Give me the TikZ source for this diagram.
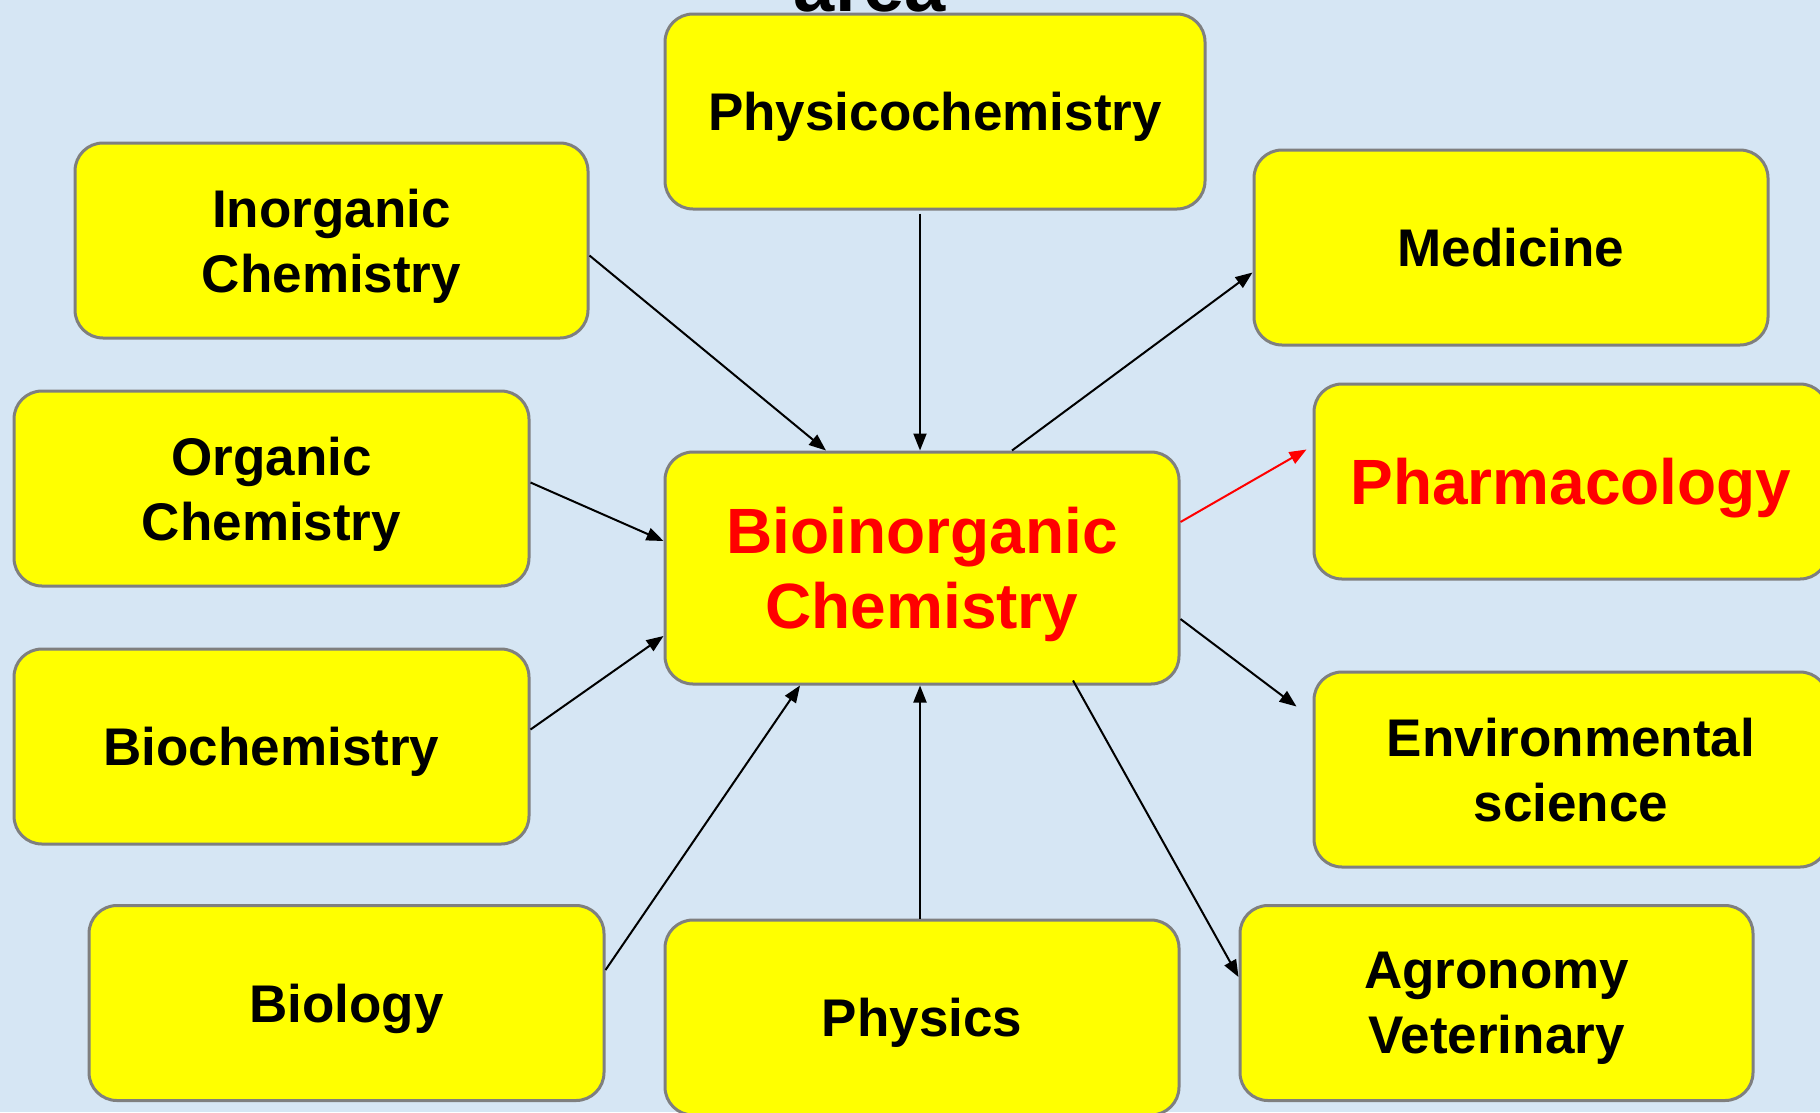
\documentclass[tikz,border=0pt]{standalone}
\usepackage{fontspec}
\setmainfont{Liberation Sans}
\usetikzlibrary{arrows.meta}
\definecolor{bgblue}{HTML}{D6E6F4}
\definecolor{boxyellow}{HTML}{FFFF00}
\definecolor{boxgray}{HTML}{7F7F7F}
\definecolor{hired}{HTML}{FF0000}
\begin{document}
\begin{tikzpicture}[x=1pt,y=-1pt,
  box/.style={draw=boxgray, line width=3pt, fill=boxyellow, rounded corners=28pt,
    align=center, inner sep=0pt, minimum width=514pt, minimum height=195pt, text depth=0pt,
    font=\fontsize{53}{65}\selectfont\bfseries},
  bigbox/.style={box, text=hired, font=\fontsize{64}{75}\selectfont\bfseries},
  conn/.style={line width=2pt, -{Triangle[length=17pt,width=13pt]}},
  redconn/.style={conn, draw=hired}]
\path[use as bounding box] (0,0) rectangle (1820,1112);
\clip (0,0) rectangle (1820,1112);
\fill[bgblue] (0,0) rectangle (1820,1112);
\node[anchor=base, font=\fontsize{74}{80}\selectfont\bfseries] (title) at (870,11) {area};

\node[box, minimum width=540pt] (phys) at (935,111.5) {Physicochemistry};
\node[box, minimum width=513pt] (inorg) at (331.5,240.5) {Inorganic\\Chemistry};
\node[box] (med) at (1511,247.5) {Medicine};
\node[box, minimum width=515pt] (org) at (271.5,488.5) {Organic\\Chemistry};
\node[bigbox, minimum height=232pt] (bio) at (922,568) {Bioinorganic\\Chemistry};
\node[bigbox] (pharm) at (1571,481.5) {Pharmacology};
\node[box, minimum width=515pt] (biochem) at (271.5,746.5) {Biochemistry};
\node[box] (env) at (1571,769.5) {Environmental\\science};
\node[box, minimum width=515pt] (biol) at (346.5,1003) {Biology};
\node[box] (physics) at (922,1017.5) {Physics};
\node[box, minimum width=513pt] (agro) at (1496.5,1003) {Agronomy\\Veterinary};

\draw[conn] ([yshift=-15pt]inorg.east) -- ([xshift=-96pt]bio.north);
\draw[conn] ([xshift=-15pt,yshift=-3pt]phys.south) -- ([xshift=-2pt]bio.north);
\draw[conn] ([xshift=90pt]bio.north) -- ([yshift=-25pt]med.west);
\draw[conn] ([yshift=6pt]org.east) -- ([yshift=27pt]bio.west);
\draw[redconn] ([yshift=46pt]bio.east) -- ([xshift=-6pt,yshift=32pt]pharm.west);
\draw[conn] ([yshift=17pt]biochem.east) -- ([yshift=-68pt]bio.west);
\draw[conn] ([yshift=-51pt]bio.east) -- ([xshift=-16pt,yshift=63pt]env.west);
\draw[conn] ([yshift=33pt]biol.east) -- ([xshift=-122pt]bio.south);
\draw[conn] ([xshift=-2pt]physics.north) -- ([xshift=-2pt]bio.south);
\draw[conn] ([xshift=151pt,yshift=5pt]bio.south) -- ([yshift=26pt]agro.west);
\end{tikzpicture}
\end{document}
